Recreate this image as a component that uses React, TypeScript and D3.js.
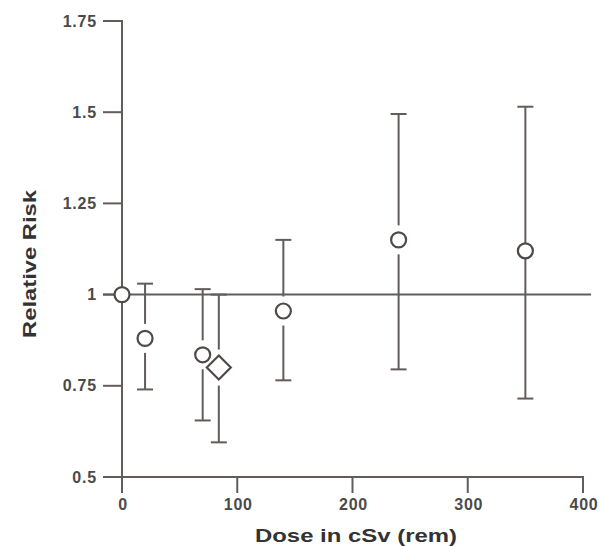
import * as d3 from "d3";

// dose (cSv) and relative risk with 95% bounds
const doses = [0, 20, 70, 84, 140, 240, 350];
const risk = [1.0, 0.88, 0.835, 0.8, 0.955, 1.15, 1.12];
const upper = [1.0, 1.03, 1.015, 1.0, 1.15, 1.495, 1.515];
const lower = [1.0, 0.74, 0.655, 0.595, 0.765, 0.795, 0.715];
const markers = ["circle", "circle", "circle", "diamond", "circle", "circle", "circle"];
// whether the bar stops short of the marker (most do, the 350 point does not)
const gapped = [false, true, true, true, true, true, false];

const xTicks = [0, 100, 200, 300, 400];
const yTicks = [0.5, 0.75, 1, 1.25, 1.5, 1.75];
const yTickLabels = ["0.5", "0.75", "1", "1.25", "1.5", "1.75"];

const W = 600;
const H = 546;
const LINE = "#625c5a";
const MARK = "#4f4a48";
const TXT = "#4a4a4a";
const FONT = "'Liberation Sans', Arial, Helvetica, sans-serif";

const x = d3.scaleLinear().domain([0, 400]).range([122, 583]);
const y = d3.scaleLinear().domain([0.5, 1.75]).range([477, 21]);

export default function App() {
  const x0 = x(0);
  const y0 = y(0.5);
  const R = 7.5;
  const D = 12;

  return (
    <div style={{ position: "absolute", left: 0, top: 0 }}>
      <svg width={W} height={H} style={{ display: "block", background: "#fff" }}>
        {/* reference line at RR = 1 */}
        <line x1={x0 - 19} x2={x(407)} y1={y(1)} y2={y(1)} stroke={LINE} strokeWidth={2} />

        {/* y axis (runs past the x axis as the 0 tick) */}
        <line x1={x0} x2={x0} y1={y(1.75) - 1} y2={y0 + 16} stroke={LINE} strokeWidth={2} />
        {yTicks.map((t, i) => (
          <g key={"yt" + t}>
            <line x1={x0 - 19} x2={x0} y1={y(t)} y2={y(t)} stroke={LINE} strokeWidth={2} />
            <text
              x={x0 - 25}
              y={y(t) + 5.5}
              textAnchor="end"
              fontFamily={FONT}
              fontWeight="bold"
              fontSize={16}
              letterSpacing={0.8}
              fill={TXT}
            >
              {yTickLabels[i]}
            </text>
          </g>
        ))}

        {/* x axis */}
        <line x1={x0 - 19} x2={x(400) + 1} y1={y0} y2={y0} stroke={LINE} strokeWidth={2} />
        {xTicks.map((t) => (
          <g key={"xt" + t}>
            <line x1={x(t)} x2={x(t)} y1={y0} y2={y0 + 16} stroke={LINE} strokeWidth={2} />
            <text
              x={x(t) + 1}
              y={y0 + 33}
              textAnchor="middle"
              fontFamily={FONT}
              fontWeight="bold"
              fontSize={16}
              letterSpacing={0.8}
              fill={TXT}
            >
              {t}
            </text>
          </g>
        ))}

        {/* error bars */}
        {doses.map((d, i) => {
          const cx = x(d);
          const cy = y(risk[i]);
          const g = gapped[i] ? (markers[i] === "diamond" ? D + 6 : R + 7) : 0;
          const yu = y(upper[i]);
          const yl = y(lower[i]);
          return (
            <g key={"eb" + i} stroke={LINE} strokeWidth={2}>
              {yu < cy - g && <line x1={cx} x2={cx} y1={yu} y2={cy - g} />}
              {yl > cy + g && <line x1={cx} x2={cx} y1={cy + g} y2={yl} />}
              {yu < cy - g && <line x1={cx - 8} x2={cx + 8} y1={yu} y2={yu} />}
              {yl > cy + g && <line x1={cx - 8} x2={cx + 8} y1={yl} y2={yl} />}
            </g>
          );
        })}

        {/* markers */}
        {doses.map((d, i) => {
          const cx = x(d);
          const cy = y(risk[i]);
          return markers[i] === "diamond" ? (
            <path
              key={"m" + i}
              d={`M${cx},${cy - D}L${cx + D},${cy}L${cx},${cy + D}L${cx - D},${cy}Z`}
              fill="#fff"
              stroke={MARK}
              strokeWidth={2.2}
            />
          ) : (
            <circle key={"m" + i} cx={cx} cy={cy} r={R} fill="#fff" stroke={MARK} strokeWidth={2.2} />
          );
        })}

        {/* axis titles */}
        <text
          x={356}
          y={542}
          textAnchor="middle"
          fontFamily={FONT}
          fontWeight="bold"
          fontSize={18}
          textLength={202}
          lengthAdjust="spacingAndGlyphs"
          fill="#333"
        >
          Dose in cSv (rem)
        </text>
        <text
          transform="translate(36,264) rotate(-90)"
          textAnchor="middle"
          fontFamily={FONT}
          fontWeight="bold"
          fontSize={18}
          textLength={148}
          lengthAdjust="spacingAndGlyphs"
          fill="#333"
        >
          Relative Risk
        </text>
      </svg>
    </div>
  );
}
